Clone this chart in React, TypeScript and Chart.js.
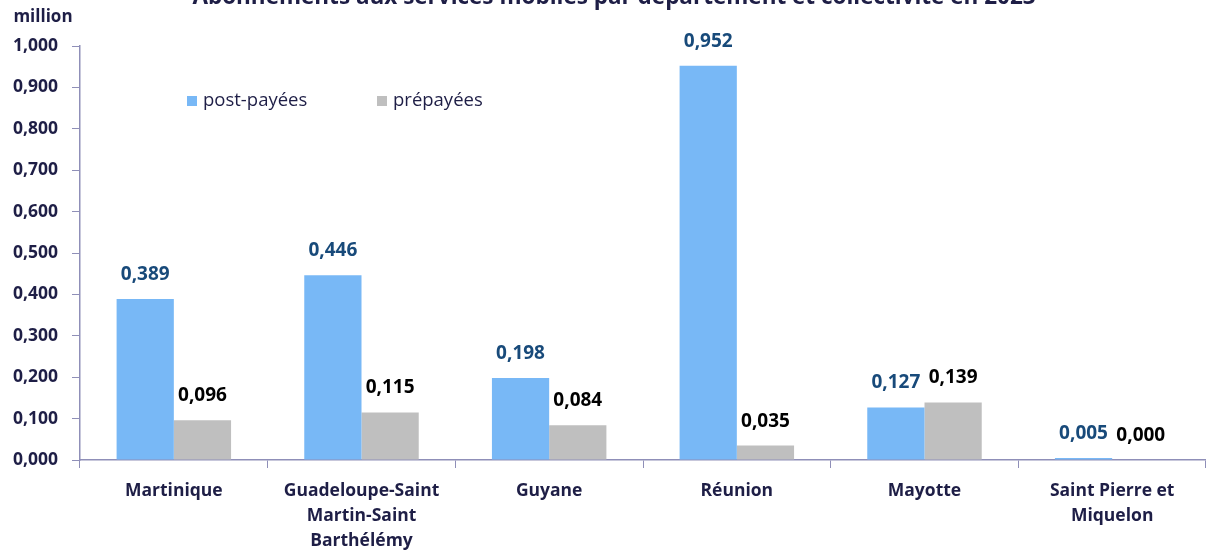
import React, { useEffect, useRef } from "react";
import { Chart, registerables } from "chart.js";

Chart.register(...registerables);

const categories: string[][] = [
  ["Martinique"],
  ["Guadeloupe-Saint", "Martin-Saint", "Barthélémy"],
  ["Guyane"],
  ["Réunion"],
  ["Mayotte"],
  ["Saint Pierre et", "Miquelon"],
];
const postPayees: number[] = [0.389, 0.446, 0.198, 0.952, 0.127, 0.005];
const prepayees: number[] = [0.096, 0.115, 0.084, 0.035, 0.139, 0.0];
const seriesNames: string[] = ["post-payées", "prépayées"];
const titleText = "Abonnements aux services mobiles par département et collectivité en 2023";
const unitText = "million";

const FONT = '"Open Sans", Lato, sans-serif';
const NAVY = "#1e1e46";
const AXIS = "#8f8fb8";
const BLUE = "#78b8f6";
const GRAY = "#bfbfbf";
const LABEL_COLORS = ["#184a7a", "#000000"];

const fmt = (v: number) => v.toFixed(3).replace(".", ",");

const extrasPlugin = {
  id: "extras",
  afterDatasetsDraw(chart: any) {
    const ctx = chart.ctx as CanvasRenderingContext2D;
    ctx.save();
    // data labels
    chart.data.datasets.forEach((ds: any, di: number) => {
      const meta = chart.getDatasetMeta(di);
      meta.data.forEach((bar: any, i: number) => {
        ctx.font = `bold 19px ${FONT}`;
        ctx.fillStyle = LABEL_COLORS[di];
        ctx.textAlign = "center";
        ctx.textBaseline = "alphabetic";
        ctx.fillText(fmt(ds.data[i]), bar.x, bar.y - 19);
      });
    });
    // title (clipped at top)
    ctx.font = `bold 22.5px ${FONT}`;
    ctx.fillStyle = NAVY;
    ctx.textAlign = "center";
    ctx.textBaseline = "alphabetic";
    ctx.fillText(titleText, 614, 4);
    // unit
    ctx.font = `bold 17px ${FONT}`;
    ctx.textBaseline = "middle";
    ctx.fillText(unitText, 43, 17);
    // legend
    const items = [
      { x: 187, color: BLUE, text: seriesNames[0] },
      { x: 377, color: GRAY, text: seriesNames[1] },
    ];
    items.forEach((it) => {
      ctx.fillStyle = it.color;
      ctx.fillRect(it.x, 96, 10, 10);
      ctx.fillStyle = NAVY;
      ctx.font = `18.5px ${FONT}`;
      ctx.textAlign = "left";
      ctx.textBaseline = "middle";
      ctx.fillText(it.text, it.x + 16, 101);
    });
    ctx.restore();
  },
};

export default function App() {
  const ref = useRef<HTMLCanvasElement | null>(null);
  useEffect(() => {
    if (!ref.current) return;
    const chart = new Chart(ref.current, {
      type: "bar",
      data: {
        labels: categories,
        datasets: [
          {
            label: seriesNames[0],
            data: postPayees,
            backgroundColor: BLUE,
            borderWidth: 0,
            barPercentage: 1,
            categoryPercentage: 0.61,
          },
          {
            label: seriesNames[1],
            data: prepayees,
            backgroundColor: GRAY,
            borderWidth: 0,
            barPercentage: 1,
            categoryPercentage: 0.61,
          },
        ],
      },
      options: {
        responsive: false,
        animation: false,
        layout: { padding: { top: 46, right: 0, left: 0, bottom: 0 } },
        plugins: {
          legend: { display: false },
          title: { display: false },
          tooltip: { enabled: false },
        },
        scales: {
          x: {
            grid: {
              offset: true,
              drawOnChartArea: false,
              drawTicks: true,
              tickLength: 8,
              color: AXIS,
            },
            border: { color: AXIS, width: 1.5 },
            ticks: {
              font: { family: FONT, size: 17.5, weight: "bold", lineHeight: 1.45 },
              color: NAVY,
              padding: 10,
              maxRotation: 0,
              autoSkip: false,
            },
            afterFit: (s: any) => {
              s.height = 92;
            },
          },
          y: {
            min: 0,
            max: 1,
            grid: {
              drawOnChartArea: false,
              drawTicks: true,
              tickLength: 8,
              color: AXIS,
            },
            border: { color: AXIS, width: 1.5 },
            ticks: {
              stepSize: 0.1,
              font: { family: FONT, size: 17.5, weight: "bold" },
              color: NAVY,
              padding: 14,
              callback: (v: any) => fmt(Number(v)),
            },
            afterFit: (s: any) => {
              s.width = 80;
            },
          },
        },
      },
      plugins: [extrasPlugin],
    } as any);
    return () => chart.destroy();
  }, []);
  return (
    <div style={{ position: "fixed", left: 0, top: 0, width: 1206, height: 552, background: "#fff" }}>
      <canvas ref={ref} width={1206} height={552} style={{ display: "block" }} />
    </div>
  );
}
